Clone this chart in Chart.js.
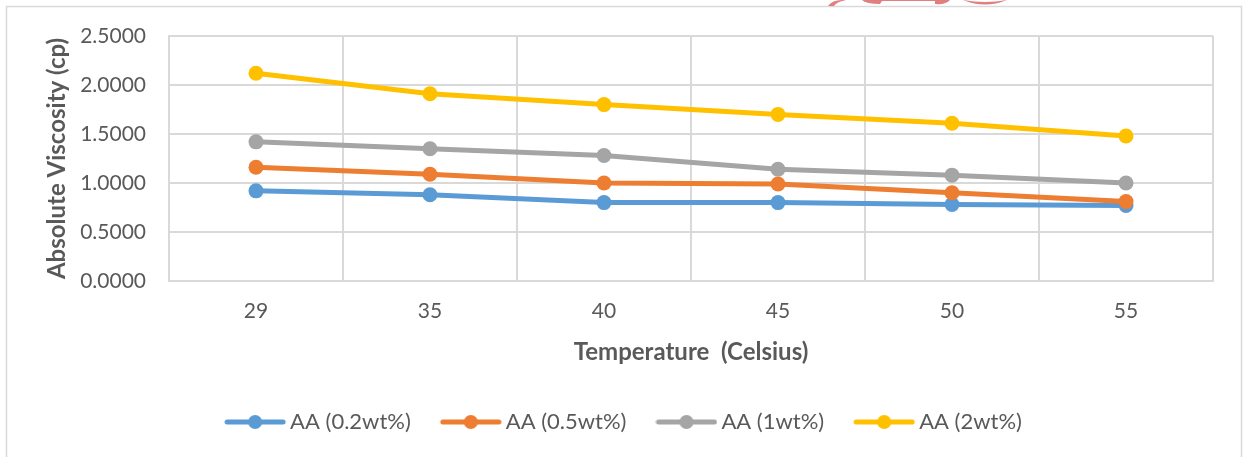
<!DOCTYPE html>
<html>
<head>
<meta charset="utf-8">
<script src="https://cdn.jsdelivr.net/npm/chart.js@4/dist/chart.umd.min.js"></script>
<style>
  html, body { margin: 0; padding: 0; background: #ffffff; }
  #wrap { width: 1243px; height: 457px; position: relative; }
</style>
</head>
<body>
<div id="wrap"><canvas id="c" width="1243" height="457"></canvas></div>
<script>
const categories = ['29', '35', '40', '45', '50', '55'];
const aa02 = [0.92, 0.88, 0.80, 0.80, 0.78, 0.77];
const aa05 = [1.16, 1.09, 1.00, 0.99, 0.90, 0.81];
const aa1  = [1.42, 1.35, 1.28, 1.14, 1.08, 1.00];
const aa2  = [2.12, 1.91, 1.80, 1.70, 1.61, 1.48];
const seriesNames = ['AA (0.2wt%)', 'AA (0.5wt%)', 'AA (1wt%)', 'AA (2wt%)'];
const seriesColors = ['#5B9BD5', '#ED7D31', '#A5A5A5', '#FFC000'];
const yMin = 0, yMax = 2.5, yStep = 0.5;
const xTitle = 'Temperature  (Celsius)';
const yTitle = 'Absolute Viscosity (cp)';

const FONT = 'Lato, "Open Sans", sans-serif';
const GRID = '#D9D9D9';
const TEXT = '#595959';

function legendIcon(color) {
  const c = document.createElement('canvas');
  c.width = 62; c.height = 16;
  const g = c.getContext('2d');
  g.strokeStyle = color; g.lineWidth = 5; g.lineCap = 'round';
  g.beginPath(); g.moveTo(3, 8); g.lineTo(59, 8); g.stroke();
  g.fillStyle = color;
  g.beginPath(); g.arc(31, 8, 7, 0, Math.PI * 2); g.fill();
  return c;
}
const icons = seriesColors.map(legendIcon);

const values = [aa02, aa05, aa1, aa2];
const datasets = values.map((v, i) => ({
  label: seriesNames[i],
  data: v,
  borderColor: seriesColors[i],
  backgroundColor: seriesColors[i],
  pointBackgroundColor: seriesColors[i],
  pointBorderColor: seriesColors[i],
  borderWidth: 5,
  pointRadius: 7.5,
  pointHoverRadius: 7.5,
  pointBorderWidth: 0,
  tension: 0,
  fill: false,
  order: values.length - i
}));

const framePlugin = {
  id: 'frame',
  beforeDraw(chart) {
    const ctx = chart.ctx;
    ctx.save();
    ctx.fillStyle = '#ffffff';
    ctx.fillRect(0, 0, chart.width, chart.height);
    ctx.strokeStyle = GRID;
    ctx.lineWidth = 1.5;
    ctx.strokeRect(6.5, 6.5, 1235, 470);
    // partial salmon mark above the frame
    ctx.fillStyle = '#E07F7F';
    ctx.beginPath();
    ctx.moveTo(828, 6); ctx.quadraticCurveTo(832, 0, 842, 0); ctx.lineTo(846, 0); ctx.quadraticCurveTo(836, 2, 834, 6); ctx.closePath(); ctx.fill();
    ctx.beginPath();
    ctx.moveTo(862, 0); ctx.lineTo(950, 0); ctx.quadraticCurveTo(946, 5, 935, 4); ctx.lineTo(935, 1); ctx.lineTo(882, 1); ctx.lineTo(880, 4); ctx.quadraticCurveTo(866, 4, 862, 0); ctx.closePath(); ctx.fill();
    ctx.beginPath();
    ctx.moveTo(963, 0); ctx.quadraticCurveTo(985, 9, 1007, 0); ctx.quadraticCurveTo(985, 4, 963, 0); ctx.closePath(); ctx.fill();
    ctx.restore();
  }
};

new Chart(document.getElementById('c'), {
  type: 'line',
  data: { labels: categories, datasets },
  plugins: [framePlugin],
  options: {
    responsive: false,
    animation: false,
    events: [],
    layout: { padding: { left: 40, top: 36, right: 30, bottom: 14 } },
    plugins: {
      tooltip: { enabled: false },
      legend: {
        position: 'bottom',
        labels: {
          usePointStyle: true,
          pointStyleWidth: 48,
          padding: 36,
          color: TEXT,
          font: { family: FONT, size: 22 },
          sort: (a, b) => a.datasetIndex - b.datasetIndex,
          generateLabels(chart) {
            const items = Chart.defaults.plugins.legend.labels.generateLabels(chart);
            items.forEach(it => { it.pointStyle = icons[it.datasetIndex]; });
            return items;
          }
        }
      }
    },
    scales: {
      x: {
        type: 'category',
        offset: true,
        grid: { display: true, offset: true, color: GRID, lineWidth: 2, drawTicks: false },
        border: { display: true, color: GRID, width: 2 },
        ticks: { color: TEXT, padding: 18, font: { family: FONT, size: 21 } },
        title: { display: true, text: xTitle, color: TEXT, padding: { top: 0, bottom: 8 }, font: { family: FONT, size: 24, weight: 'bold' } },
        afterFit(scale) { scale.height = 94; }
      },
      y: {
        min: yMin, max: yMax,
        grid: { color: GRID, lineWidth: 2, drawTicks: false },
        border: { display: true, color: GRID, width: 2 },
        ticks: {
          stepSize: yStep, color: TEXT, padding: 23,
          font: { family: FONT, size: 21 },
          callback: v => Number(v).toFixed(4)
        },
        title: { display: true, text: yTitle, color: TEXT, padding: { top: 3, bottom: 0 }, font: { family: FONT, size: 24, weight: 'bold' } },
        afterFit(scale) { scale.width = 129; }
      }
    }
  }
});
</script>
</body>
</html>
